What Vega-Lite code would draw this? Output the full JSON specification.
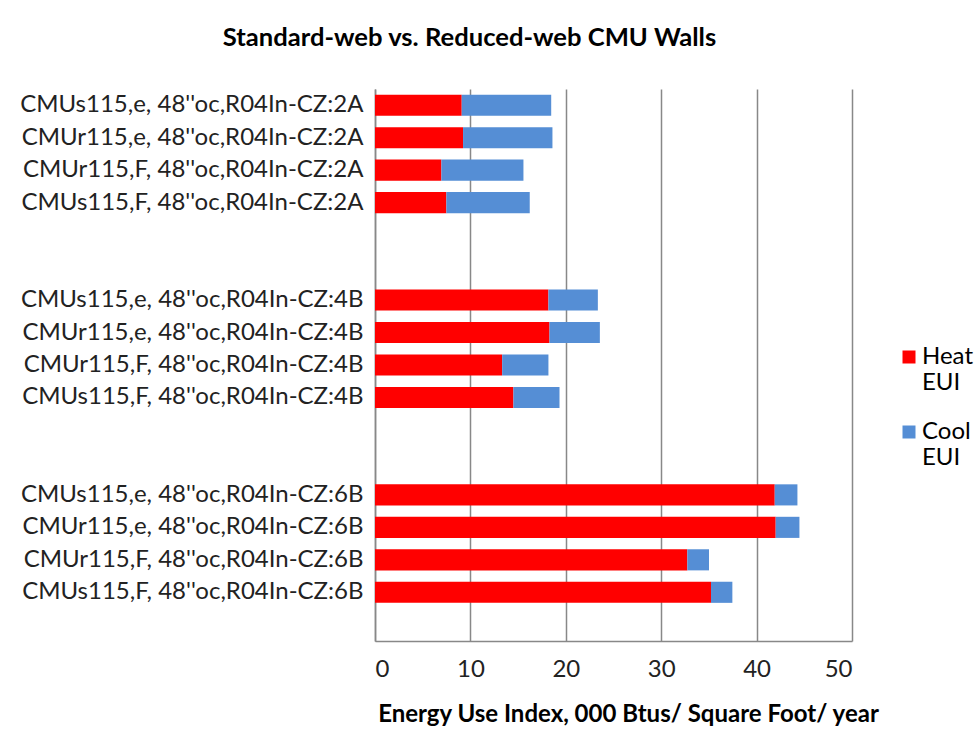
{
  "$schema": "https://vega.github.io/schema/vega-lite/v6.json",
  "autosize": {"type": "none"},
  "padding": {"left": 375, "top": 89, "right": 128, "bottom": 108},
  "width": 477,
  "height": 552,
  "background": "white",
  "config": {
    "font": "Lato",
    "view": {"stroke": null}
  },
  "title": {
    "text": "Standard-web vs. Reduced-web CMU Walls",
    "fontSize": 25.6,
    "fontWeight": "bold",
    "font": "Lato",
    "color": "#000000",
    "anchor": "middle",
    "frame": "group",
    "dx": -144,
    "baseline": "alphabetic",
    "offset": 17
  },
  "data": {
    "values": [
      {"wall": "CMUs115,e, 48''oc,R04In-CZ:2A", "series": "Heat EUI", "k": 1, "eui": 9.09},
      {"wall": "CMUs115,e, 48''oc,R04In-CZ:2A", "series": "Cool EUI", "k": 2, "eui": 9.38},
      {"wall": "CMUr115,e, 48''oc,R04In-CZ:2A", "series": "Heat EUI", "k": 1, "eui": 9.23},
      {"wall": "CMUr115,e, 48''oc,R04In-CZ:2A", "series": "Cool EUI", "k": 2, "eui": 9.37},
      {"wall": "CMUr115,F, 48''oc,R04In-CZ:2A", "series": "Heat EUI", "k": 1, "eui": 6.96},
      {"wall": "CMUr115,F, 48''oc,R04In-CZ:2A", "series": "Cool EUI", "k": 2, "eui": 8.6},
      {"wall": "CMUs115,F, 48''oc,R04In-CZ:2A", "series": "Heat EUI", "k": 1, "eui": 7.48},
      {"wall": "CMUs115,F, 48''oc,R04In-CZ:2A", "series": "Cool EUI", "k": 2, "eui": 8.74},
      {"wall": "CMUs115,e, 48''oc,R04In-CZ:4B", "series": "Heat EUI", "k": 1, "eui": 18.18},
      {"wall": "CMUs115,e, 48''oc,R04In-CZ:4B", "series": "Cool EUI", "k": 2, "eui": 5.18},
      {"wall": "CMUr115,e, 48''oc,R04In-CZ:4B", "series": "Heat EUI", "k": 1, "eui": 18.29},
      {"wall": "CMUr115,e, 48''oc,R04In-CZ:4B", "series": "Cool EUI", "k": 2, "eui": 5.28},
      {"wall": "CMUr115,F, 48''oc,R04In-CZ:4B", "series": "Heat EUI", "k": 1, "eui": 13.33},
      {"wall": "CMUr115,F, 48''oc,R04In-CZ:4B", "series": "Cool EUI", "k": 2, "eui": 4.85},
      {"wall": "CMUs115,F, 48''oc,R04In-CZ:4B", "series": "Heat EUI", "k": 1, "eui": 14.51},
      {"wall": "CMUs115,F, 48''oc,R04In-CZ:4B", "series": "Cool EUI", "k": 2, "eui": 4.83},
      {"wall": "CMUs115,e, 48''oc,R04In-CZ:6B", "series": "Heat EUI", "k": 1, "eui": 41.9},
      {"wall": "CMUs115,e, 48''oc,R04In-CZ:6B", "series": "Cool EUI", "k": 2, "eui": 2.38},
      {"wall": "CMUr115,e, 48''oc,R04In-CZ:6B", "series": "Heat EUI", "k": 1, "eui": 42.0},
      {"wall": "CMUr115,e, 48''oc,R04In-CZ:6B", "series": "Cool EUI", "k": 2, "eui": 2.49},
      {"wall": "CMUr115,F, 48''oc,R04In-CZ:6B", "series": "Heat EUI", "k": 1, "eui": 32.74},
      {"wall": "CMUr115,F, 48''oc,R04In-CZ:6B", "series": "Cool EUI", "k": 2, "eui": 2.27},
      {"wall": "CMUs115,F, 48''oc,R04In-CZ:6B", "series": "Heat EUI", "k": 1, "eui": 35.22},
      {"wall": "CMUs115,F, 48''oc,R04In-CZ:6B", "series": "Cool EUI", "k": 2, "eui": 2.24}
    ]
  },
  "mark": {"type": "bar"},
  "encoding": {
    "y": {
      "field": "wall",
      "type": "nominal",
      "scale": {
        "domain": [
          "CMUs115,e, 48''oc,R04In-CZ:2A",
          "CMUr115,e, 48''oc,R04In-CZ:2A",
          "CMUr115,F, 48''oc,R04In-CZ:2A",
          "CMUs115,F, 48''oc,R04In-CZ:2A",
          " ",
          "  ",
          "CMUs115,e, 48''oc,R04In-CZ:4B",
          "CMUr115,e, 48''oc,R04In-CZ:4B",
          "CMUr115,F, 48''oc,R04In-CZ:4B",
          "CMUs115,F, 48''oc,R04In-CZ:4B",
          "   ",
          "    ",
          "CMUs115,e, 48''oc,R04In-CZ:6B",
          "CMUr115,e, 48''oc,R04In-CZ:6B",
          "CMUr115,F, 48''oc,R04In-CZ:6B",
          "CMUs115,F, 48''oc,R04In-CZ:6B",
          "     "
        ],
        "paddingInner": 0.35,
        "paddingOuter": 0.175
      },
      "axis": {
        "title": null,
        "ticks": false,
        "domainColor": "#888888",
        "domainWidth": 1.5,
        "labelFontSize": 24,
        "labelColor": "#222222",
        "labelPadding": 12,
        "labelLimit": 400,
        "grid": false
      }
    },
    "x": {
      "field": "eui",
      "type": "quantitative",
      "stack": "zero",
      "scale": {"domain": [0, 50], "nice": false},
      "axis": {
        "title": "Energy Use Index, 000 Btus/ Square Foot/ year",
        "titleFontSize": 24,
        "titleFontWeight": "bold",
        "titleColor": "#000000",
        "titlePadding": 21,
        "titleX": 253,
        "titleAlign": "center",
        "values": [0, 10, 20, 30, 40, 50],
        "ticks": false,
        "domainColor": "#888888",
        "domainWidth": 1.5,
        "labelFontSize": 24,
        "labelColor": "#222222",
        "labelPadding": 16,
        "grid": true,
        "gridColor": "#888888",
        "gridWidth": 1.5
      }
    },
    "color": {
      "field": "series",
      "type": "nominal",
      "scale": {"domain": ["Heat EUI", "Cool EUI"], "range": ["#FF0000", "#558ED5"]},
      "legend": {
        "title": null,
        "orient": "none",
        "legendX": 522,
        "legendY": 256,
        "symbolType": "square",
        "symbolSize": 169,
        "symbolStrokeWidth": 0,
        "labelFontSize": 24,
        "labelColor": "#000000",
        "labelExpr": "split(datum.label, ' ')",
        "labelBaseline": "middle",
        "labelOffset": 1,
        "rowPadding": 25
      }
    },
    "order": {"field": "k", "type": "quantitative"}
  }
}
